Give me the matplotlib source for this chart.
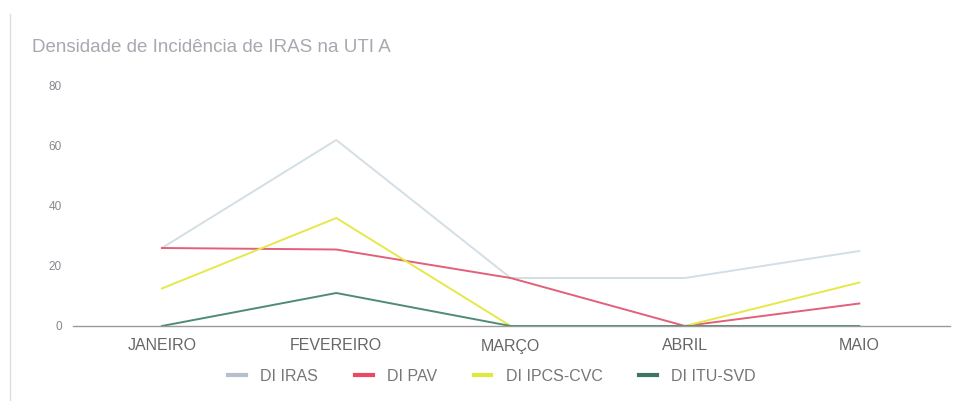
import matplotlib.pyplot as plt
from matplotlib.lines import Line2D

meses = ['JANEIRO', 'FEVEREIRO', 'MARÇO', 'ABRIL', 'MAIO']
di_iras = [26, 62, 16, 16, 25]
di_pav = [26, 25.5, 16, 0, 7.5]
di_ipcs = [12.5, 36, 0, 0, 14.5]
di_itu = [0, 11, 0, 0, 0]
series = [
    ('DI IRAS', di_iras, '#d3dee5', '#b4c0cc'),
    ('DI PAV', di_pav, '#e2607a', '#e84a64'),
    ('DI IPCS-CVC', di_ipcs, '#e6e84a', '#dfe83c'),
    ('DI ITU-SVD', di_itu, '#4f8c74', '#3f7563'),
]

plt.rcParams['font.family'] = ['Liberation Sans', 'DejaVu Sans']
fig = plt.figure(figsize=(9.62, 4.01), dpi=100)
ax = fig.add_axes([73 / 962, 1 - 326 / 401, 877 / 962, 240 / 401])

x = list(range(len(meses)))
for name, vals, color, _ in series:
    ax.plot(x, vals, color=color, lw=1.4, label=name)

ax.set_xlim(-0.51, 4.52)
ax.set_ylim(0, 80)
ax.set_yticks([0, 20, 40, 60, 80])
ax.set_xticks(x)
ax.set_xticklabels(meses)
for s in ['top', 'right', 'left']:
    ax.spines[s].set_visible(False)
ax.spines['bottom'].set_color('#9a9a9a')
ax.spines['bottom'].set_linewidth(1.0)
ax.tick_params(axis='y', length=0, labelsize=8.5, colors='#888890', pad=8)
ax.tick_params(axis='x', length=0, labelsize=11.5, colors='#666666', pad=9)

fig.text(32 / 962, 1 - 47 / 401, 'Densidade de Incidência de IRAS na UTI A',
         fontsize=13.5, color='#a8a8b0', va='center')

leg = ax.legend(loc='center', bbox_to_anchor=(0.478, -0.21), ncol=4,
                frameon=False, fontsize=11.5, handlelength=1.1, handletextpad=0.9,
                columnspacing=2.3, labelcolor='#777777')
for h, (_, _, _, hc) in zip(leg.get_lines(), series):
    h.set_linewidth(3)
    h.set_color(hc)

fig.add_artist(Line2D([10 / 962, 10 / 962], [0, 1 - 14 / 401], color='#dddddd', lw=1))

fig.savefig('out.png', dpi=100)
